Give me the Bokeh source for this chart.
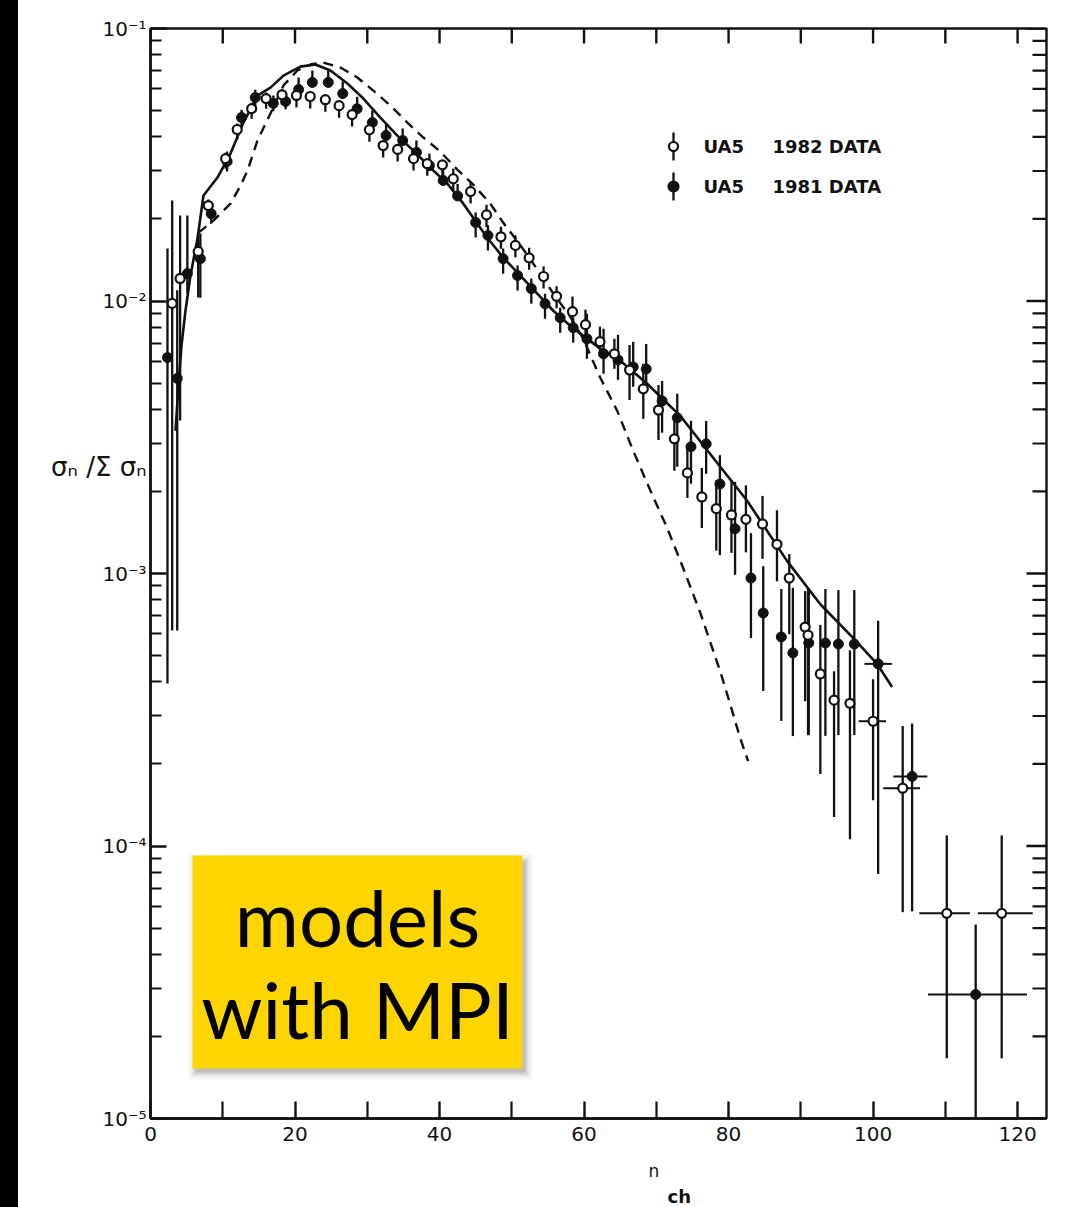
import numpy as np
from bokeh.plotting import figure
from bokeh.models import FixedTicker, Label, Div, Title, LogAxis
from bokeh.layouts import row
from bokeh.embed import file_html
from bokeh.resources import INLINE

# ------------------------------------------------------------------ data
# UA5 1982 data (open circles)
n1982 = [3.0, 4.1, 6.6, 8.0, 10.4, 12.0, 14.0, 16.0, 18.2, 20.2, 22.1, 24.2, 26.1, 27.9,
         30.3, 32.2, 34.2, 36.4, 38.3, 40.4, 41.9, 44.3, 46.5, 48.5, 50.5, 52.4, 54.4,
         56.2, 58.4, 60.2, 62.2, 64.2, 66.3, 68.2, 70.3, 72.5, 74.3, 76.3, 78.3, 80.4,
         82.4, 84.7, 86.7, 88.4, 90.6, 91.0, 92.7, 94.6, 96.8, 100.0, 104.1, 110.2, 117.8]
y1982 = [0.0098, 0.0121, 0.0152, 0.0224, 0.0333, 0.0426, 0.0508, 0.0553, 0.0571, 0.0568,
         0.0563, 0.0548, 0.0521, 0.0483, 0.0425, 0.0372, 0.0360, 0.0333, 0.0319, 0.0316,
         0.0281, 0.0252, 0.0207, 0.0172, 0.0160, 0.0144, 0.0123, 0.0104, 0.00914, 0.00819,
         0.00709, 0.00640, 0.00558, 0.00476, 0.00398, 0.00312, 0.00234, 0.00191, 0.00173,
         0.00164, 0.00158, 0.00152, 0.00128, 0.000962, 0.000636, 0.000594, 0.000428,
         0.000343, 0.000334, 0.000287, 0.000163, 5.66e-5, 5.66e-5]
# error-bar extents above / below each point (decades)
up1982 = [0.378, 0.231, 0.066, 0.022, 0.022, 0.022, 0.022, 0.022, 0.022, 0.018,
          0.018, 0.018, 0.018, 0.018, 0.018, 0.018, 0.018, 0.018, 0.018, 0.018,
          0.037, 0.037, 0.037, 0.037, 0.037, 0.037, 0.037, 0.037, 0.055, 0.055,
          0.055, 0.055, 0.092, 0.092, 0.092, 0.066, 0.103, 0.106, 0.103, 0.125,
          0.125, 0.103, 0.125, 0.088, 0.132, 0.172, 0.180, 0.106, 0.194, 0.154,
          0.228, 0.286, 0.286]
dn1982 = [1.200, 0.521, 0.169, 0.037, 0.037, 0.037, 0.037, 0.037, 0.037, 0.044,
          0.044, 0.044, 0.044, 0.044, 0.044, 0.044, 0.044, 0.044, 0.044, 0.044,
          0.044, 0.044, 0.044, 0.044, 0.044, 0.044, 0.044, 0.044, 0.055, 0.055,
          0.055, 0.055, 0.110, 0.110, 0.110, 0.117, 0.092, 0.114, 0.154, 0.139,
          0.121, 0.128, 0.136, 0.206, 0.272, 0.367, 0.367, 0.429, 0.499, 0.290,
          0.455, 0.532, 0.532]
# horizontal bin bars of the last four 1982 points
xbar1982_lo = [98.0, 101.4, 106.4, 114.5]
xbar1982_hi = [101.8, 106.5, 113.4, 122.1]

# UA5 1981 data (filled circles)
n1981 = [2.35, 3.7, 5.1, 6.9, 8.4, 10.6, 12.6, 14.5, 17.0, 18.7, 20.5, 22.4, 24.6, 26.6,
         28.6, 30.7, 32.6, 34.9, 36.8, 38.6, 40.5, 42.5, 45.0, 46.7, 48.8, 50.8, 52.7,
         54.6, 56.7, 58.5, 60.4, 62.7, 64.7, 66.8, 68.6, 70.8, 72.9, 74.8, 76.9, 78.8,
         80.9, 83.1, 84.8, 87.3, 88.9, 91.1, 93.4, 95.2, 97.4, 100.7, 105.4, 114.2]
y1981 = [0.0062, 0.0052, 0.0126, 0.0143, 0.0209, 0.0325, 0.0471, 0.0558, 0.0531, 0.0540,
         0.0597, 0.0634, 0.0634, 0.0577, 0.0508, 0.0452, 0.0405, 0.0388, 0.0351, 0.0314,
         0.0277, 0.0243, 0.0194, 0.0174, 0.0143, 0.0124, 0.0111, 0.00977, 0.00868,
         0.00798, 0.00726, 0.00640, 0.00608, 0.00573, 0.00563, 0.00430, 0.00373, 0.00292,
         0.00299, 0.00213, 0.00146, 0.000962, 0.000716, 0.000585, 0.000511, 0.000556,
         0.000556, 0.000551, 0.000551, 0.000466, 0.000180, 2.85e-5]
up1981 = [0.400, 0.323, 0.213, 0.092, 0.037, 0.037, 0.029, 0.029, 0.029, 0.029,
          0.044, 0.044, 0.044, 0.044, 0.044, 0.044, 0.044, 0.044, 0.044, 0.044,
          0.044, 0.044, 0.037, 0.037, 0.037, 0.037, 0.037, 0.037, 0.037, 0.037,
          0.092, 0.092, 0.092, 0.092, 0.092, 0.073, 0.088, 0.095, 0.084, 0.106,
          0.172, 0.165, 0.172, 0.176, 0.239, 0.191, 0.198, 0.198, 0.198, 0.158,
          0.194, 0.257]
dn1981 = [1.196, 0.925, 0.073, 0.143, 0.037, 0.037, 0.029, 0.029, 0.029, 0.029,
          0.018, 0.018, 0.018, 0.018, 0.018, 0.018, 0.018, 0.018, 0.018, 0.018,
          0.018, 0.018, 0.055, 0.055, 0.055, 0.055, 0.055, 0.055, 0.055, 0.055,
          0.073, 0.073, 0.073, 0.073, 0.073, 0.117, 0.180, 0.136, 0.110, 0.261,
          0.169, 0.220, 0.286, 0.308, 0.305, 0.338, 0.341, 0.334, 0.334, 0.771,
          0.495, 2.0]
xbar1981_lo = [98.8, 102.8, 107.6]
xbar1981_hi = [102.6, 107.5, 121.3]

# model curves
model_solid_n = [3.46, 3.87, 4.29, 4.84, 5.53, 6.50, 7.33, 9.27, 11.07, 12.86, 14.80, 16.60,
                 18.40, 20.75, 22.82, 24.90, 27.25, 29.46, 31.81, 34.16, 36.38, 38.73, 41.08,
                 43.29, 46.61, 48.82, 51.18, 53.53, 55.74, 58.09, 60.44, 62.66, 65.01, 68.74,
                 73.31, 77.87, 82.57, 88.11, 92.67, 97.23, 100.55, 102.63]
model_solid_y = [0.00334, 0.00489, 0.00686, 0.00921, 0.01239, 0.01694, 0.02438, 0.02838,
                 0.03475, 0.04518, 0.05676, 0.06068, 0.06714, 0.07245, 0.07379, 0.07015,
                 0.06281, 0.05534, 0.04711, 0.04044, 0.03564, 0.03085, 0.02697, 0.02276,
                 0.01706, 0.01442, 0.01239, 0.01064, 0.00921, 0.00811, 0.00726, 0.00656,
                 0.00604, 0.00497, 0.00379, 0.00266, 0.00185, 0.00111, 0.000773, 0.000580,
                 0.000466, 0.000383]
model_dash_n = [6.64, 8.71, 11.07, 12.45, 13.42, 14.80, 16.60, 18.40, 20.33, 22.13, 23.93,
                26.28, 28.63, 30.84, 33.20, 35.55, 37.76, 40.11, 42.46, 44.67, 47.03, 48.8,
                51.2, 53.5, 55.7, 58.1, 59.9, 62.24, 64.6, 66.8, 69.2, 71.5, 73.7, 76.1,
                78.84, 80.22, 81.60, 82.71]
model_dash_y = [0.01782, 0.01972, 0.02276, 0.02649, 0.03006, 0.03880, 0.04875, 0.06180,
                0.07015, 0.07379, 0.07501, 0.07192, 0.06607, 0.05917, 0.05214, 0.04518,
                0.03981, 0.03533, 0.03034, 0.02673, 0.02276, 0.0194, 0.0160, 0.0131, 0.0107,
                0.00875, 0.00726, 0.00523, 0.00395, 0.00282, 0.00201, 0.00147, 0.00105,
                0.000716, 0.000438, 0.000332, 0.000249, 0.000205]

x_label_ticks = [0, 20, 40, 60, 80, 100, 120]
x_plain_ticks = [10, 30, 50, 70, 90, 110]
y_ticks = [1e-5, 1e-4, 1e-3, 1e-2, 1e-1]
y_tick_labels = ["10\u207b\u2075", "10\u207b\u2074", "10\u207b\u00b3",
                 "10\u207b\u00b2", "10\u207b\u00b9"]
legend_labels = [("UA5", "1982 DATA"), ("UA5", "1981 DATA")]
box_lines = ["models", "with MPI"]
y_title = "\u03c3\u2099 /\u03a3 \u03c3\u2099"
x_title = ("n", "ch")

# ------------------------------------------------------------------ layout helpers
FR_L, FR_T, FR_R, PX_N, PX_DEC = 150, 28, 1046, 896 / 124.0, 272.5
STRIP = 18


def nx(px):  # page pixel -> n_ch
    return (px - FR_L) / PX_N


def yy(py):  # page pixel -> sigma
    return 10 ** (-1 - (py - FR_T) / PX_DEC)


INK = "#111111"
LW = 2.4

p = figure(width=1064, height=1207, y_axis_type="log", x_range=(0, 124),
           y_range=(1e-5, 1e-1), output_backend="svg", toolbar_location=None,
           min_border_left=132, min_border_right=36, min_border_top=28,
           min_border_bottom=89, background_fill_color="white",
           border_fill_color="white")
p.grid.visible = False
p.outline_line_color = INK
p.outline_line_width = LW

minor = [k * 10 ** d for d in range(-5, -1) for k in range(2, 10)]

xa = p.xaxis[0]
xa.ticker = FixedTicker(ticks=x_label_ticks, minor_ticks=x_plain_ticks)
ya = p.yaxis[0]
ya.ticker = FixedTicker(ticks=y_ticks, minor_ticks=minor)
ya.major_label_overrides = dict(zip(y_ticks, y_tick_labels))

for ax in (xa, ya):
    ax.axis_line_color = INK
    ax.axis_line_width = LW
    ax.major_tick_line_color = INK
    ax.major_tick_line_width = LW
    ax.minor_tick_line_color = INK
    ax.minor_tick_line_width = 2.2
    ax.major_tick_out = 0
    ax.minor_tick_out = 0
    ax.major_label_text_color = INK
    ax.major_label_text_font = "DejaVu Sans"

xa.major_tick_in = 17
xa.minor_tick_in = 17
ya.major_tick_in = 16
ya.minor_tick_in = 11
xa.major_label_text_font_size = "20px"
xa.major_label_standoff = 8
ya.major_label_text_font_size = "20px"
ya.major_label_standoff = 4

# horizontal y-axis title: a second, line-less left axis with one labelled position
y_title_pos = yy(466)
ttl_axis = LogAxis(ticker=FixedTicker(ticks=[y_title_pos], minor_ticks=[]),
                   major_label_overrides={y_title_pos: y_title},
                   axis_line_color=None, major_tick_line_color=None,
                   minor_tick_line_color=None, major_tick_in=0, major_tick_out=0,
                   minor_tick_in=0, minor_tick_out=0,
                   major_label_text_font="DejaVu Sans",
                   major_label_text_font_size="26px", major_label_text_color=INK,
                   major_label_standoff=-47)
p.add_layout(ttl_axis, "left")

# ticks on the top and right frame edges
top_x = x_label_ticks + x_plain_ticks
p.segment(x0=top_x, y0=[yy(FR_T + 15)] * len(top_x), x1=top_x, y1=[0.1] * len(top_x),
          line_color=INK, line_width=LW)
p.segment(x0=[nx(FR_R - 20)] * len(y_ticks), y0=y_ticks, x1=[124] * len(y_ticks),
          y1=y_ticks, line_color=INK, line_width=LW)
p.segment(x0=[nx(FR_R - 14)] * len(minor), y0=minor, x1=[124] * len(minor), y1=minor,
          line_color=INK, line_width=2.2)

# x axis title: "n" with subscript "ch", as two titles below the axis
t_n = Title(text=x_title[0], align="left", offset=648 - FR_L, standoff=30,
            text_font="DejaVu Sans", text_font_size="17px", text_font_style="normal",
            text_color=INK)
t_ch = Title(text=x_title[1], align="left", offset=667 - FR_L, standoff=-23,
             text_font="DejaVu Sans", text_font_size="18px", text_font_style="bold",
             text_color=INK)
p.add_layout(t_n, "below")
p.add_layout(t_ch, "below")

# ------------------------------------------------------------------ curves
p.line(model_solid_n, model_solid_y, line_color=INK, line_width=2.6)
p.line(model_dash_n, model_dash_y, line_color=INK, line_width=2.4, line_dash="10 7")

# ------------------------------------------------------------------ data with error bars
for n, y, up, dn in ((n1982, y1982, up1982, dn1982), (n1981, y1981, up1981, dn1981)):
    yv = np.array(y)
    hi = yv * 10 ** np.array(up)
    lo = yv * 10 ** (-np.array(dn))
    p.segment(x0=n, y0=lo, x1=n, y1=hi, line_color=INK, line_width=2.3)

p.segment(x0=xbar1982_lo, y0=y1982[-4:], x1=xbar1982_hi, y1=y1982[-4:],
          line_color=INK, line_width=2.0)
p.segment(x0=xbar1981_lo, y0=y1981[-3:], x1=xbar1981_hi, y1=y1981[-3:],
          line_color=INK, line_width=2.0)

p.scatter(n1981, y1981, marker="circle", size=10, fill_color=INK, line_color=INK)
p.scatter(n1982, y1982, marker="circle", size=9, fill_color="white", line_color=INK,
          line_width=2.2)

# ------------------------------------------------------------------ legend
leg_rows = [146, 186]
for (lab1, lab2), py, filled in zip(legend_labels, leg_rows, (False, True)):
    p.segment(x0=[nx(673)], y0=[yy(py + 14)], x1=[nx(673)], y1=[yy(py - 14)],
              line_color=INK, line_width=2.3)
    p.scatter([nx(673)], [yy(py)], marker="circle", size=9 if not filled else 10,
              fill_color=INK if filled else "white", line_color=INK, line_width=2.2)
    p.add_layout(Label(x=nx(703), y=yy(py), text=lab1, text_font="DejaVu Sans",
                       text_font_size="18px", text_font_style="bold",
                       text_baseline="middle", text_color=INK))
    p.add_layout(Label(x=nx(772), y=yy(py), text=lab2, text_font="DejaVu Sans",
                       text_font_size="18px", text_font_style="bold",
                       text_baseline="middle", text_color=INK))

# ------------------------------------------------------------------ yellow note box
L, R, T, B = 192, 522, 855, 1068
for k, a in ((8, 0.04), (5, 0.06), (3, 0.08), (1, 0.10)):
    p.quad(left=[nx(L - k + 4)], right=[nx(R + k + 2)], top=[yy(T - k + 7)],
           bottom=[yy(B + k + 3)], fill_color="black", fill_alpha=a, line_color=None)
p.quad(left=[nx(L)], right=[nx(R)], top=[yy(T)], bottom=[yy(B)],
       fill_color="#FFD500", line_color=None)
for txt, py in zip(box_lines, (916, 1008)):
    p.add_layout(Label(x=nx(357), y=yy(py), text=txt, text_font="Lato",
                       text_font_size="78px", text_align="center",
                       text_baseline="middle", text_color="black"))

strip = Div(width=STRIP, height=1207, margin=(0, 0, 0, 0),
            styles={"background-color": "black"})
layout = row(strip, p, spacing=0)
open("out.html", "w").write(file_html(layout, INLINE))
